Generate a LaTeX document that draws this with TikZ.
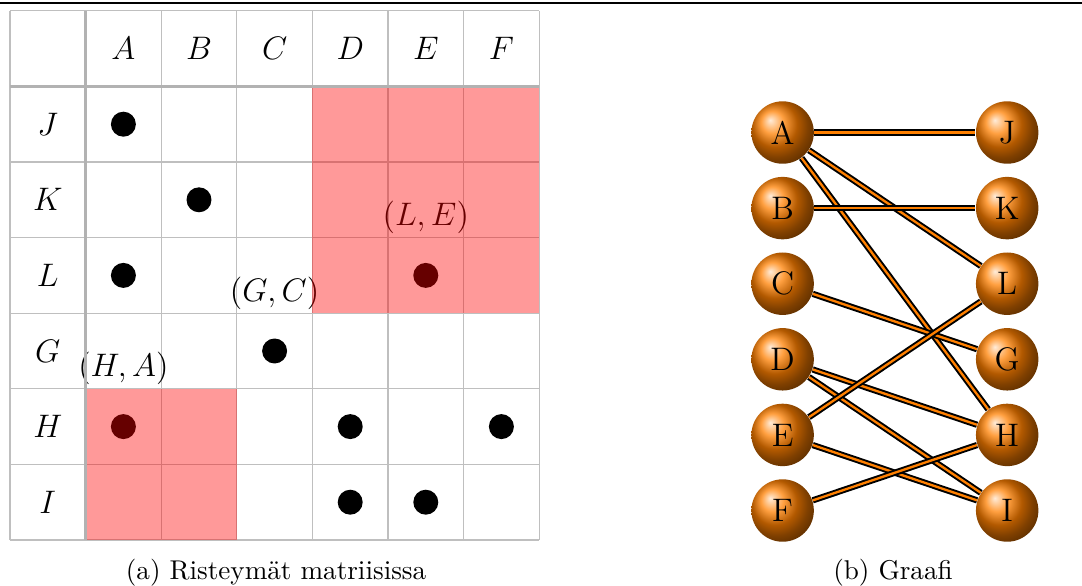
\documentclass[tikz,border=0pt]{standalone}
\begin{document}
\begin{tikzpicture}[x=27.85pt, y=27.85pt,
    gridline/.style={gray!50, line width=0.4pt},
    headline/.style={gray!60, line width=1.15pt},
    hit/.style={circle, fill=black, inner sep=0pt, minimum size=9.2pt},
    pairlbl/.style={font=\large},
    ball/.style={circle, shading=ball, ball color=orange, inner sep=0pt, minimum size=23pt, font=\large},
    edge/.style={draw=black, double=orange, line width=0.72pt, double distance=0.86pt}]
    \useasboundingbox (-0.1323,-0.6085) rectangle (14.18,7.143);

    % Rule above the figure
    \draw[line width=1pt] (-0.1323,7.103) -- (14.18,7.103);

    % Grid of the matrix
    \draw[gridline, xstep=27.85pt, ystep=27.85pt] (0,0) grid (7,7);

    % Column and row headers
    \foreach \c [count=\i] in {A,B,C,D,E,F}
        \node[pairlbl] (col\c) at (\i+0.5,6.5) {$\c$};
    \foreach \r [count=\i] in {J,K,L,G,H,I}
        \node[pairlbl] (row\r) at (0.5,6.5-\i) {$\r$};

    % Crossings as dots
    \foreach \c/\r in {A/J,B/K,A/L,E/L,C/G,A/H,D/H,F/H,D/I,E/I}
        \node[hit] (m\c\r) at (col\c |- row\r) {};

    % Labels of the chosen pairs
    \node[pairlbl] (pLE) at ([yshift=21.4pt]mEL) {$(L,E)$};
    \node[pairlbl] (pGC) at ([yshift=21.4pt]mCG) {$(G,C)$};
    \node[pairlbl] (pHA) at ([yshift=21.4pt]mAH) {$(H,A)$};

    % Blocked areas
    \fill[red, opacity=0.4] (4,3) rectangle (7,6);
    \fill[red, opacity=0.4] (1,0) rectangle (3,2);

    % Header separators
    \draw[headline] (1,0) -- (1,7);
    \draw[headline] (0,6) -- (7,6);

    % Vertices of the graph
    \foreach \v/\y in {A/5.39,B/4.39,C/3.39,D/2.39,E/1.39,F/0.39}
        \node[ball] (v\v) at (10.22,\y) {\v};
    \foreach \v/\y in {J/5.39,K/4.39,L/3.39,G/2.39,H/1.39,I/0.39}
        \node[ball] (v\v) at (13.19,\y) {\v};

    % Edges
    \foreach \a/\b in {A/J,A/L,A/H,B/K,C/G,D/H,D/I,E/L,E/I,F/H}
        \draw[edge] (v\a) -- (v\b);

    % Captions
    \node (capA) at (3.52,-0.437) {(a) Risteymät matriisissa};
    \node (capB) at (11.68,-0.437) {(b) Graafi};
\end{tikzpicture}
\end{document}
